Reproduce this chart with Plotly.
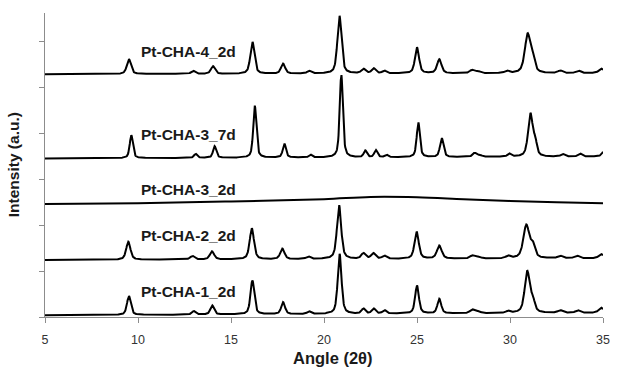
import numpy as np
import plotly.graph_objects as go

# ---------------- data ----------------
two_theta_range = [5, 35]
x_ticks = [5, 10, 15, 20, 25, 30, 35]

# Peak tables: position (deg 2θ), height (counts above baseline), FWHM (deg)
cha1_pos = [9.51, 13.0, 13.99, 16.15, 17.8, 19.2, 20.84, 22.12, 22.67, 23.25, 25.0, 26.2, 27.98, 28.3, 29.9, 30.93, 31.23, 32.7, 33.65, 34.9]
cha1_hgt = [415, 76, 196, 742, 262, 55, 1309, 109, 109, 76, 611, 316, 81, 35, 44, 900, 230, 55, 55, 109]
cha1_fwhm = [0.24, 0.24, 0.24, 0.24, 0.24, 0.24, 0.24, 0.24, 0.24, 0.24, 0.24, 0.24, 0.3, 0.3, 0.24, 0.33, 0.26, 0.3, 0.3, 0.3]
cha1_base = [37, 92]

cha2_pos = [9.48, 12.93, 13.98, 16.12, 17.76, 19.16, 20.81, 22.12, 22.65, 23.25, 24.98, 26.2, 27.98, 28.3, 29.9, 30.88, 31.23, 32.7, 33.6, 34.9]
cha2_hgt = [393, 76, 175, 676, 229, 55, 1178, 120, 120, 65, 589, 284, 65, 35, 55, 720, 260, 55, 55, 87]
cha2_fwhm = [0.27, 0.27, 0.27, 0.27, 0.27, 0.27, 0.27, 0.27, 0.27, 0.27, 0.27, 0.3, 0.3, 0.3, 0.27, 0.38, 0.28, 0.3, 0.3, 0.3]
cha2_base = [1244, 1281]

# amorphous sample: sampled trace
cha3_2d_x = [5, 10, 15, 20, 22.5, 25, 27.5, 30, 32.5, 35]
cha3_2d_y = [2466, 2481, 2520, 2570, 2618, 2611, 2570, 2531, 2503, 2481]

cha3_7d_pos = [9.64, 13.1, 14.12, 16.28, 17.87, 19.28, 20.93, 22.22, 22.79, 23.36, 25.07, 26.33, 28.1, 28.4, 29.96, 31.1, 31.36, 32.84, 33.77, 35.05]
cha3_7d_hgt = [502, 87, 255, 1135, 305, 59, 1811, 142, 153, 55, 764, 415, 87, 35, 65, 930, 270, 55, 65, 115]
cha3_7d_fwhm = [0.2, 0.2, 0.2, 0.2, 0.2, 0.2, 0.2, 0.2, 0.2, 0.2, 0.2, 0.22, 0.26, 0.26, 0.24, 0.3, 0.22, 0.26, 0.26, 0.26]
cha3_7d_base = [3459, 3498]

cha4_pos = [9.51, 12.97, 14.03, 16.15, 17.8, 19.2, 20.83, 22.12, 22.67, 23.25, 25.0, 26.2, 27.96, 28.3, 29.84, 30.95, 31.23, 32.7, 33.68, 34.9]
cha4_hgt = [327, 65, 166, 698, 218, 57, 1266, 98, 109, 59, 567, 305, 72, 40, 50, 840, 260, 55, 55, 98]
cha4_fwhm = [0.26, 0.26, 0.26, 0.26, 0.26, 0.26, 0.26, 0.26, 0.26, 0.26, 0.26, 0.28, 0.3, 0.3, 0.26, 0.36, 0.27, 0.3, 0.3, 0.3]
cha4_base = [5296, 5318]

labels = ["Pt-CHA-4_2d", "Pt-CHA-3_7d", "Pt-CHA-3_2d", "Pt-CHA-2_2d", "Pt-CHA-1_2d"]
label_y = [5782, 3971, 2771, 1767, 567]
label_x = 10.05

# ---------------- build profiles ----------------
grid = np.arange(5, 35.0001, 0.02)


def pattern(pos, hgt, fwhm, base, eta=0.55):
    y = np.interp(grid, two_theta_range, base)
    for c, h, w in zip(pos, hgt, fwhm):
        u = (grid - c) / (w / 2.0)
        L = 1.0 / (1.0 + u ** 2)
        G = np.exp(-np.log(2) * u ** 2)
        y = y + h * (eta * L + (1 - eta) * G)
    return y


series = [
    (grid, pattern(cha1_pos, cha1_hgt, cha1_fwhm, cha1_base), "linear"),
    (grid, pattern(cha2_pos, cha2_hgt, cha2_fwhm, cha2_base), "linear"),
    (cha3_2d_x, cha3_2d_y, "spline"),
    (grid, pattern(cha3_7d_pos, cha3_7d_hgt, cha3_7d_fwhm, cha3_7d_base), "linear"),
    (grid, pattern(cha4_pos, cha4_hgt, cha4_fwhm, cha4_base), "linear"),
]

fig = go.Figure()
for xs, ys, shape in series:
    fig.add_trace(go.Scatter(x=xs, y=ys, mode="lines",
                             line=dict(color="black", width=2, shape=shape),
                             showlegend=False, hoverinfo="skip"))

for t, yv in zip(labels, label_y):
    fig.add_annotation(x=label_x, y=yv, text="<b>%s</b>" % t, showarrow=False,
                       xanchor="left", yanchor="middle",
                       font=dict(family="Liberation Sans", size=15.5, color="#1a1a1a"))

axis_grey = "#8c8c8c"
fig.update_layout(
    width=618, height=373,
    margin=dict(l=45, r=8, t=13, b=56),
    paper_bgcolor="white", plot_bgcolor="white",
    font=dict(family="Liberation Sans", size=12, color="#333333"),
    xaxis=dict(range=two_theta_range, tickvals=x_ticks, ticks="outside", ticklen=5,
               tickcolor=axis_grey, showline=True, linecolor=axis_grey, linewidth=1,
               showgrid=False, zeroline=False, ticklabelstandoff=6,
               tickfont=dict(size=12.5, color="#333333")),
    yaxis=dict(range=[0, 6630], dtick=1000, tick0=0, ticks="outside", ticklen=5,
               tickcolor=axis_grey, showline=True, linecolor=axis_grey, linewidth=1,
               showgrid=False, zeroline=False, showticklabels=False),
)

fig.add_annotation(xref="paper", yref="paper", x=0.517, y=-0.135,
                   text="<b>Angle (2θ)</b>", showarrow=False,
                   xanchor="center", yanchor="middle",
                   font=dict(family="Liberation Sans", size=16.5, color="#1a1a1a"))
fig.add_annotation(xref="paper", yref="paper", x=-0.057, y=0.50,
                   text="<b>Intensity (a.u.)</b>", showarrow=False, textangle=-90,
                   xanchor="center", yanchor="middle",
                   font=dict(family="Liberation Sans", size=15.5, color="#1a1a1a"))

fig.write_html("out.html")
